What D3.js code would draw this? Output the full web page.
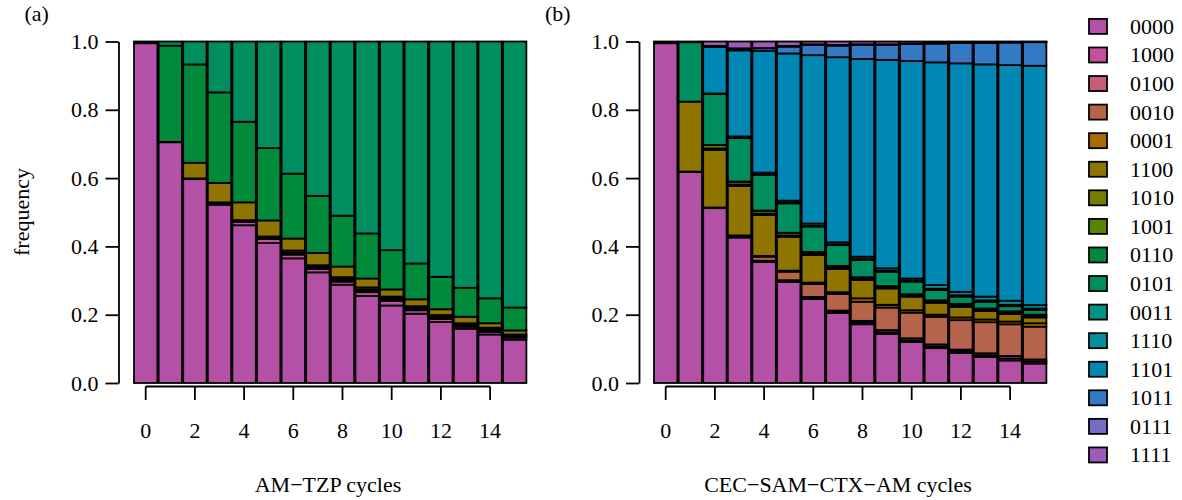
<!DOCTYPE html>
<html>
<head>
<meta charset="utf-8">
<script src="https://cdn.jsdelivr.net/npm/d3@7"></script>
<style>
  body { margin: 0; background: #fff; }
  svg { display: block; }
  svg text { font-family: 'Liberation Serif', 'Tinos', 'DejaVu Serif', serif !important; fill: #000; }
</style>
</head>
<body>
<div id="chart"></div>
<script>
// genotype states, bottom to top of each stack
const states = ['0000', '1000', '0100', '0010', '0001', '1100', '1010', '1001',
  '0110', '0101', '0011', '1110', '1101', '1011', '0111', '1111'];
const stateColors = ['#b451a6', '#c3519a', '#c55d79', '#b6634b', '#a96b00', '#8f7400',
  '#797b00', '#568600', '#008a3a', '#008e60', '#009283', '#00909e', '#0087b3',
  '#3479c4', '#776ec4', '#a05ab9'];

const cycles = [0, 1, 2, 3, 4, 5, 6, 7, 8, 9, 10, 11, 12, 13, 14, 15];
const xTicks = [0, 2, 4, 6, 8, 10, 12, 14];
const yTicks = [0, 0.2, 0.4, 0.6, 0.8, 1.0];

// (a) AM-TZP cycles
const tzp0000 = [0.995, 0.705, 0.597, 0.522, 0.462, 0.410, 0.365, 0.324, 0.288, 0.255, 0.227, 0.203, 0.179, 0.159, 0.142, 0.127];
const tzp1000 = [0.002, 0.001, 0.002, 0.004, 0.010, 0.012, 0.011, 0.010, 0.009, 0.011, 0.013, 0.010, 0.009, 0.006, 0.007, 0.006];
const tzp0100 = [0, 0, 0, 0.001, 0.001, 0.002, 0.003, 0.003, 0.004, 0.004, 0.004, 0.004, 0.004, 0.004, 0.005, 0.004];
const tzp0010 = [0, 0, 0, 0.001, 0.002, 0.002, 0.003, 0.003, 0.004, 0.004, 0.004, 0.004, 0.003, 0.003, 0.004, 0.003];
const tzp0001 = [0, 0, 0, 0.001, 0.002, 0.003, 0.006, 0.005, 0.005, 0.006, 0.005, 0.004, 0.004, 0.003, 0.004, 0.002];
const tzp1100 = [0, 0, 0.046, 0.057, 0.052, 0.047, 0.035, 0.036, 0.031, 0.026, 0.021, 0.020, 0.017, 0.019, 0.013, 0.012];
const tzp0110 = [0.001, 0.282, 0.288, 0.265, 0.236, 0.212, 0.190, 0.167, 0.149, 0.132, 0.115, 0.105, 0.095, 0.085, 0.073, 0.067];
const tzp0101 = [0.002, 0.012, 0.067, 0.149, 0.235, 0.312, 0.387, 0.452, 0.510, 0.562, 0.611, 0.650, 0.689, 0.721, 0.752, 0.779];

// (b) CEC-SAM-CTX-AM cycles
const cec0000 = [0.995, 0.618, 0.512, 0.426, 0.354, 0.296, 0.246, 0.205, 0.172, 0.144, 0.120, 0.102, 0.088, 0.076, 0.066, 0.057];
const cec1000 = [0.002, 0.001, 0.001, 0.002, 0.002, 0.003, 0.003, 0.003, 0.005, 0.005, 0.005, 0.005, 0.005, 0.005, 0.006, 0.006];
const cec0100 = [0, 0, 0, 0.001, 0.002, 0.002, 0.003, 0.004, 0.005, 0.006, 0.006, 0.006, 0.005, 0.006, 0.007, 0.006];
const cec0010 = [0, 0, 0, 0.001, 0.012, 0.025, 0.038, 0.049, 0.056, 0.066, 0.075, 0.081, 0.086, 0.091, 0.093, 0.096];
const cec0001 = [0, 0, 0.001, 0.002, 0.002, 0.003, 0.004, 0.005, 0.010, 0.008, 0.007, 0.006, 0.008, 0.008, 0.008, 0.010];
const cec1100 = [0, 0.205, 0.169, 0.145, 0.120, 0.099, 0.081, 0.068, 0.054, 0.048, 0.040, 0.035, 0.031, 0.025, 0.022, 0.017];
const cec1010 = [0, 0, 0.004, 0.004, 0.004, 0.004, 0.004, 0.004, 0.004, 0.003, 0.003, 0.003, 0.004, 0.003, 0.003, 0.003];
const cec1001 = [0, 0, 0.010, 0.008, 0.008, 0.008, 0.005, 0.005, 0.004, 0.004, 0.004, 0.004, 0.005, 0.004, 0.005, 0.005];
const cec0110 = [0, 0, 0, 0.001, 0.001, 0, 0, 0, 0, 0, 0, 0, 0, 0, 0, 0];
const cec0101 = [0.001, 0.174, 0.149, 0.127, 0.105, 0.086, 0.074, 0.061, 0.050, 0.042, 0.037, 0.030, 0.021, 0.020, 0.015, 0.014];
const cec0011 = [0, 0, 0, 0.001, 0.002, 0.002, 0.002, 0.002, 0.003, 0.003, 0.003, 0.004, 0.004, 0.004, 0.004, 0.004];
const cec1110 = [0, 0, 0.002, 0.004, 0.004, 0.006, 0.007, 0.006, 0.007, 0.007, 0.006, 0.011, 0.010, 0.011, 0.012, 0.010];
const cec1101 = [0, 0, 0.136, 0.252, 0.356, 0.431, 0.493, 0.542, 0.579, 0.610, 0.637, 0.652, 0.669, 0.680, 0.690, 0.701];
const cec1011 = [0, 0, 0.002, 0.004, 0.008, 0.020, 0.030, 0.034, 0.041, 0.044, 0.050, 0.055, 0.060, 0.063, 0.066, 0.069];
const cec0111 = [0, 0, 0.001, 0.002, 0.001, 0.002, 0.002, 0.002, 0.002, 0.002, 0.001, 0.001, 0.001, 0.001, 0.001, 0.001];
const cec1111 = [0.002, 0.002, 0.013, 0.020, 0.019, 0.013, 0.008, 0.010, 0.008, 0.008, 0.006, 0.005, 0.003, 0.003, 0.002, 0.001];

const panelA = {
  '0000': tzp0000, '1000': tzp1000, '0100': tzp0100, '0010': tzp0010,
  '0001': tzp0001, '1100': tzp1100, '0110': tzp0110, '0101': tzp0101,
};
const panelB = {
  '0000': cec0000, '1000': cec1000, '0100': cec0100, '0010': cec0010,
  '0001': cec0001, '1100': cec1100, '1010': cec1010, '1001': cec1001,
  '0110': cec0110, '0101': cec0101, '0011': cec0011, '1110': cec1110,
  '1101': cec1101, '1011': cec1011, '0111': cec0111, '1111': cec1111,
};

const width = 1182;
const height = 500;
const fontSize = 22;

const svg = d3.select('#chart')
  .append('svg')
  .attr('width', width)
  .attr('height', height);

const color = d3.scaleOrdinal().domain(states).range(stateColors);

const y = d3.scaleLinear()
  .domain([0, 1])
  .range([383, 41.5]);

function drawPanel(table, axisX, barsX0, label, title, titleX) {
  const rows = cycles.map((c, i) => {
    const row = { cycle: c };
    states.forEach((s) => { row[s] = table[s] ? table[s][i] : 0; });
    return row;
  });

  const x = d3.scaleBand()
    .domain(cycles)
    .range([barsX0, barsX0 + 16 * 24.6])
    .paddingInner(0.05)
    .paddingOuter(0.025);

  const series = d3.stack().keys(states)(rows);

  const g = svg.append('g');

  g.selectAll('.layer')
    .data(series)
    .enter()
    .append('g')
    .attr('fill', d => color(d.key))
    .selectAll('rect')
    .data(d => d)
    .enter()
    .append('rect')
    .attr('x', d => x(d.data.cycle))
    .attr('width', x.bandwidth())
    .attr('y', d => y(Math.min(d[1], 1)))
    .attr('height', d => Math.max(0, y(d[0]) - y(Math.min(d[1], 1))))
    .attr('stroke', '#000')
    .attr('stroke-width', 1.8);

  // y axis
  const yAxis = g.append('g')
    .attr('transform', `translate(${axisX}, 0)`)
    .call(d3.axisLeft(y)
      .tickValues(yTicks)
      .tickFormat(d3.format('.1f'))
      .tickSize(13)
      .tickSizeOuter(0)
      .tickPadding(7));
  yAxis.select('.domain').attr('stroke-width', 1.8);
  yAxis.selectAll('.tick line').attr('stroke-width', 1.8);
  yAxis.selectAll('.tick text')
    .style('font-size', `${fontSize}px`);

  // x axis at bar centres
  const xc = d => x(d) + x.bandwidth() / 2;
  const xg = g.append('g');
  xg.append('line')
    .attr('x1', xc(xTicks[0]))
    .attr('x2', xc(xTicks[xTicks.length - 1]))
    .attr('y1', 386.5)
    .attr('y2', 386.5)
    .attr('stroke', '#000')
    .attr('stroke-width', 1.8);
  xg.selectAll('.xtick')
    .data(xTicks)
    .enter()
    .append('line')
    .attr('x1', xc)
    .attr('x2', xc)
    .attr('y1', 386.5)
    .attr('y2', 400)
    .attr('stroke', '#000')
    .attr('stroke-width', 1.8);
  xg.selectAll('.xlab')
    .data(xTicks)
    .enter()
    .append('text')
    .attr('x', xc)
    .attr('y', 438)
    .attr('text-anchor', 'middle')
    .style('font-size', `${fontSize}px`)
    .text(d => d);

  g.append('text')
    .attr('x', titleX)
    .attr('y', 492)
    .attr('text-anchor', 'middle')
    .style('font-size', `${fontSize}px`)
    .text(title);

  g.append('text')
    .attr('x', axisX - 94)
    .attr('y', 21)
    .style('font-size', `${fontSize}px`)
    .text(label);
}

drawPanel(panelA, 118.5, 133.4, '(a)', 'AM\u2212TZP cycles', 328);
drawPanel(panelB, 639, 653.4, '(b)', 'CEC\u2212SAM\u2212CTX\u2212AM cycles', 838);

svg.append('text')
  .attr('transform', 'translate(29, 212) rotate(-90)')
  .attr('text-anchor', 'middle')
  .style('font-size', `${fontSize}px`)
  .text('frequency');

// legend
const legend = svg.append('g');
const rowGap = 28.57;
const item = legend.selectAll('.item')
  .data(states)
  .enter()
  .append('g')
  .attr('transform', (d, i) => `translate(1089, ${26.4 + i * rowGap})`);

item.append('rect')
  .attr('x', 0)
  .attr('y', -7.5)
  .attr('width', 18)
  .attr('height', 15)
  .attr('fill', d => color(d))
  .attr('stroke', '#000')
  .attr('stroke-width', 1.8);

item.append('text')
  .attr('x', 41)
  .attr('y', 7.5)
  .style('font-size', `${fontSize}px`)
  .text(d => d);
</script>
</body>
</html>
